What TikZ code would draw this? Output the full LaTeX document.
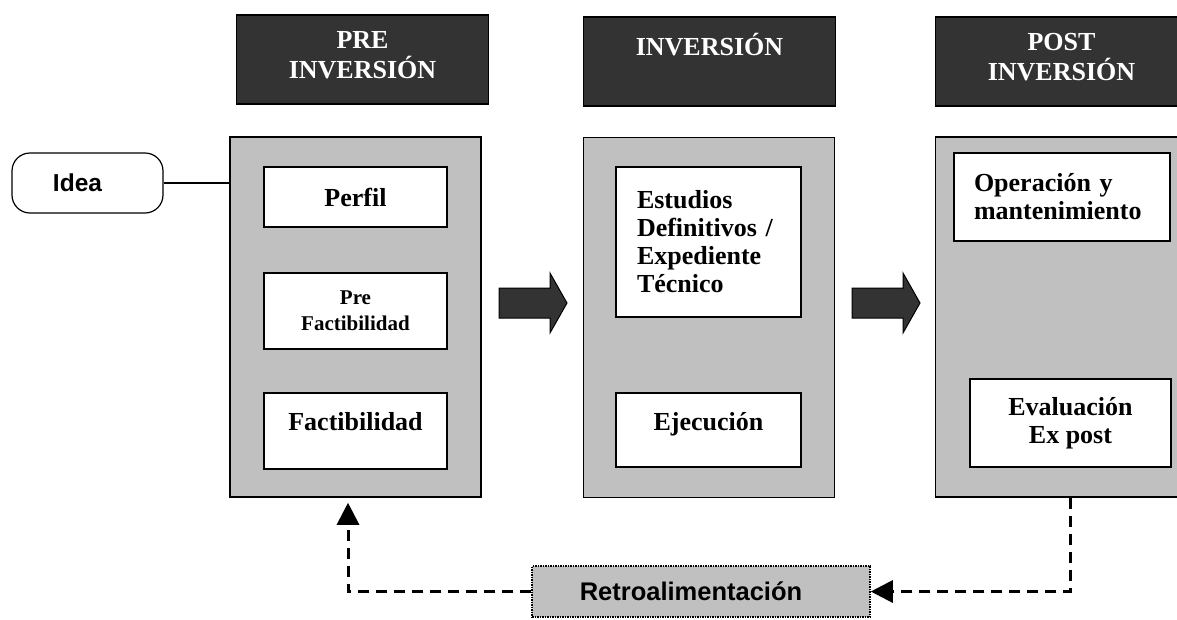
\documentclass[tikz,border=0pt]{standalone}
\usepackage{fontspec}
\setmainfont{Liberation Serif}
\newfontfamily\arialfont{Liberation Sans}
\usetikzlibrary{arrows.meta}
\definecolor{cajagris}{HTML}{C0C0C0}
\definecolor{cajaoscura}{HTML}{333333}

\begin{document}
\begin{tikzpicture}[x=1pt,y=-1pt,
	etapa/.style={draw=black, line width=1.5pt, fill=cajagris, minimum width=251pt, minimum height=360pt, inner sep=0pt},
	titulo/.style={draw=black, line width=1.5pt, fill=cajaoscura, minimum width=252pt, minimum height=89pt, inner sep=0pt},
	titulotxt/.style={anchor=north, inner sep=0pt, yshift=-17pt, text=white, align=center, font=\fontsize{26}{30}\selectfont\bfseries},
	fase/.style={draw=black, line width=1.5pt, fill=white, inner sep=0pt, font=\fontsize{26}{28}\selectfont\bfseries},
	flecha/.style={draw=black, line width=1pt, fill=cajaoscura},
	retroflecha/.style={line width=3pt, dash pattern=on 11pt off 7pt, -{Triangle[length=22pt,width=22pt]}}]
	\useasboundingbox (0,0) rectangle (1177,619);
	\clip (0,0) rectangle (1177,619);
	% Draw the three stage boxes
	\node[etapa] (preinv) at (355.5,317) {};
	\node[etapa] (inv) at (709,317.5) {};
	\node[etapa] (postinv) at (1061,317) {};
	% Draw the stage titles
	\node[titulo, label={[titulotxt]north:PRE\\INVERSIÓN}] (tpre) at (362.5,59.5) {};
	\node[titulo, label={[titulotxt]north:INVERSIÓN}] (tinv) at (709.5,61.5) {};
	\node[titulo, label={[titulotxt]north:POST\\INVERSIÓN}] (tpost) at (1061.5,61.5) {};
	% Phases of each stage
	\node[fase, minimum width=183pt, minimum height=60pt] (perfil) at (355.5,197) {Perfil};
	\node[fase, minimum width=183pt, minimum height=76pt, align=center,
		font=\fontsize{21}{26}\selectfont\bfseries] (prefact) at (355.5,311) {Pre\\Factibilidad};
	\node[fase, minimum width=183pt, minimum height=76pt, text depth=20pt] (fact) at (355.5,431) {Factibilidad};
	\node[fase, minimum width=185pt, minimum height=150pt, text width=143pt, inner xsep=21pt,
		align=left] (estudios) at (708.5,242) {Estudios\\Definitivos /\\Expediente\\Técnico};
	\node[fase, minimum width=185pt, minimum height=74pt, text depth=17pt] (ejec) at (708.5,430) {Ejecución};
	\node[fase, minimum width=216pt, minimum height=88pt, text width=176pt, inner xsep=20pt,
		align=left] (operacion) at (1062,197) {Operación y\\mantenimiento};
	\node[fase, minimum width=201pt, minimum height=88pt, align=center] (evalexp) at (1070.5,423) {Evaluación\\Ex post};
	% Draw the two block arrows between stages
	\foreach \ax in {499,852}
		\draw[flecha] (\ax,288) -- ++(51,0) -- ++(0,-15) -- ++(17,30) -- ++(-17,30)
		-- ++(0,-15) -- ++(-51,0) -- cycle;
	% Idea and feedback
	\node[draw=black, line width=1.2pt, rounded corners=18pt, minimum width=151pt, minimum height=60pt,
		font=\arialfont\fontsize{24.5}{28}\selectfont\bfseries] (idea) at (87.5,183) {Idea\hspace*{20pt}};
	\draw[line width=1.2pt] (idea) -- (idea -| preinv.west);
	\node[draw=black, densely dotted, line width=1.5pt, fill=cajagris, minimum width=338pt, minimum height=51pt,
		font=\arialfont\fontsize{25.5}{28}\selectfont\bfseries] (retro) at (701,591.5) {Retroalimentación\hspace*{20pt}};
	\draw[retroflecha] (evalexp |- postinv.south) |- (retro.east);
	\draw[retroflecha, shorten >=5pt] (retro.west) -| ([xshift=-7.5pt]preinv.south);
\end{tikzpicture}
\end{document}
